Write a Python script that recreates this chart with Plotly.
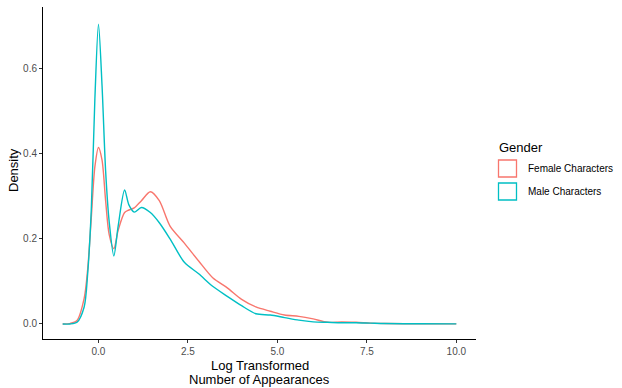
import plotly.graph_objects as go

x_vals = [-1.0, -0.8, -0.6, -0.4, -0.3, -0.2, -0.1, 0.0, 0.1, 0.2, 0.3, 0.43, 0.55, 0.73,
          0.85, 1.0, 1.2, 1.45, 1.7, 2.0, 2.4, 2.8, 3.2, 3.6, 4.0, 4.4, 4.8, 5.2, 5.6,
          6.0, 6.4, 6.8, 7.2, 7.6, 8.0, 9.0, 10.0]
female_density = [0.0, 0.001, 0.008, 0.06, 0.13, 0.25, 0.37, 0.415, 0.385, 0.29, 0.21, 0.177,
                  0.22, 0.262, 0.268, 0.273, 0.29, 0.311, 0.29, 0.23, 0.19, 0.148, 0.108,
                  0.085, 0.058, 0.04, 0.03, 0.021, 0.018, 0.012, 0.004, 0.005, 0.004, 0.002,
                  0.001, 0.0005, 0.0003]
male_density = [0.0, 0.0, 0.004, 0.04, 0.12, 0.27, 0.53, 0.705, 0.56, 0.36, 0.24, 0.16,
                0.23, 0.315, 0.28, 0.263, 0.274, 0.262, 0.238, 0.2, 0.145, 0.118, 0.088,
                0.065, 0.043, 0.024, 0.021, 0.015, 0.009, 0.005, 0.004, 0.003, 0.003, 0.002,
                0.001, 0.0005, 0.0003]
series_names = ["Female Characters", "Male Characters"]
series_colors = ["#F8766D", "#00BFC4"]
x_ticks = [0.0, 2.5, 5.0, 7.5, 10.0]
x_tick_labels = ["0.0", "2.5", "5.0", "7.5", "10.0"]
y_ticks = [0.0, 0.2, 0.4, 0.6]
y_tick_labels = ["0.0", "0.2", "0.4", "0.6"]

FONT = "Liberation Sans, Arial, sans-serif"
W, H = 622, 388
L, R, T, B = 43, 476, 7, 339

fig = go.Figure()
for name, ys, col in zip(series_names, [female_density, male_density], series_colors):
    fig.add_trace(go.Scatter(x=x_vals, y=ys, mode="lines", name=name,
                             line=dict(color=col, width=1.4, shape="spline", smoothing=0.8),
                             showlegend=False))

fig.update_layout(
    width=W, height=H,
    margin=dict(l=L, r=W - R, t=T, b=H - B, pad=0),
    paper_bgcolor="white", plot_bgcolor="white",
    font=dict(family=FONT, color="black"),
    xaxis=dict(range=[-1.55, 10.55], tickvals=x_ticks, ticktext=x_tick_labels,
               showgrid=False, zeroline=False, showline=True, linecolor="black", linewidth=1,
               ticks="outside", ticklen=3, tickcolor="#333333", tickwidth=1,
               tickfont=dict(size=10, color="#4D4D4D", family=FONT), automargin=False),
    yaxis=dict(range=[-0.0353, 0.7453], tickvals=y_ticks, ticktext=y_tick_labels,
               showgrid=False, zeroline=False, showline=True, linecolor="black", linewidth=1,
               ticks="outside", ticklen=3, tickcolor="#333333", tickwidth=1,
               tickfont=dict(size=10, color="#4D4D4D", family=FONT), automargin=False),
)

def px(xp): return (xp - L) / (R - L)
def py(yp): return (B - yp) / (B - T)

# Axis titles
for txt, yp in [("Log Transformed", 365.5), ("Number of Appearances", 379)]:
    fig.add_annotation(x=px(259.5), y=py(yp), xref="paper", yref="paper",
                       text=txt, showarrow=False, xanchor="center", yanchor="middle",
                       font=dict(size=13, color="black", family=FONT))
fig.add_annotation(x=px(13), y=py(170), xref="paper", yref="paper", text="Density",
                   showarrow=False, textangle=-90, xanchor="center", yanchor="middle",
                   font=dict(size=13, color="black", family=FONT))

# Legend drawn manually (ggplot-style outlined keys)
fig.add_annotation(x=px(497), y=py(148), xref="paper", yref="paper", text="Gender",
                   showarrow=False, xanchor="left", yanchor="middle",
                   font=dict(size=13, color="black", family=FONT))
key_tops = [160, 183]
for name, col, top in zip(series_names, series_colors, key_tops):
    fig.add_shape(type="rect", xref="paper", yref="paper",
                  x0=px(498.5), x1=px(516.5), y0=py(top), y1=py(top + 17),
                  line=dict(color=col, width=1.3), fillcolor="white")
    fig.add_annotation(x=px(526), y=py(top + 8.5), xref="paper", yref="paper", text=name,
                       showarrow=False, xanchor="left", yanchor="middle",
                       font=dict(size=10, color="black", family=FONT))

fig.write_html("out.html", config={"displayModeBar": False},
               post_script="document.body.style.margin='0px';document.body.style.padding='0px';")
